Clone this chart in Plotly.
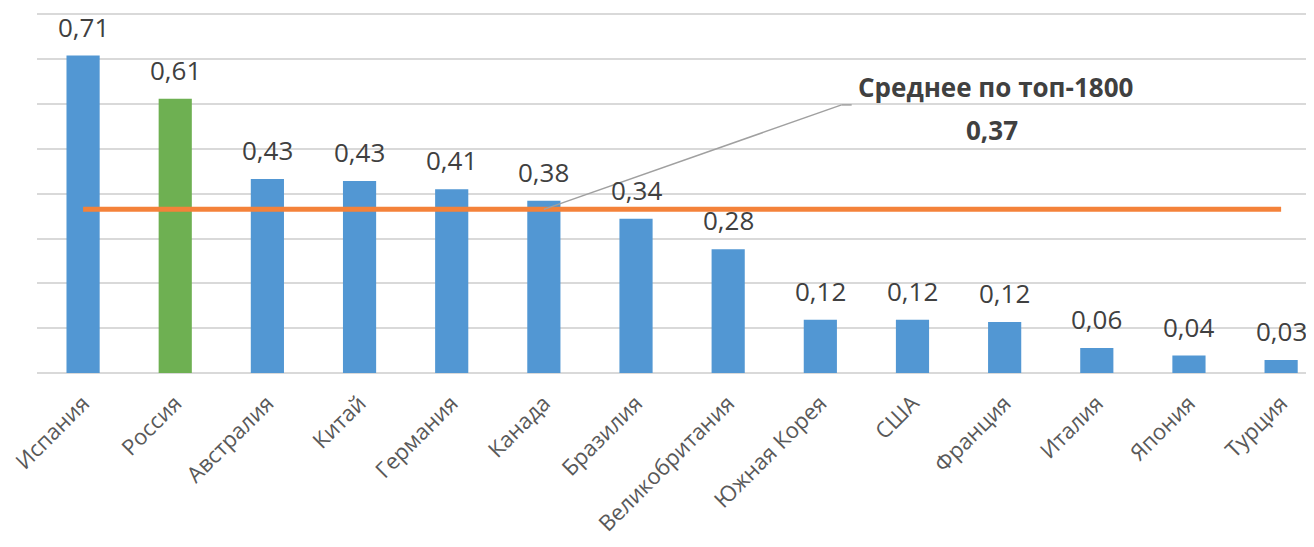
import plotly.graph_objects as go

countries = ["Испания", "Россия", "Австралия", "Китай", "Германия", "Канада", "Бразилия",
             "Великобритания", "Южная Корея", "США", "Франция", "Италия", "Япония", "Турция"]
values = [0.71, 0.61, 0.43, 0.43, 0.41, 0.38, 0.34, 0.28, 0.12, 0.12, 0.12, 0.06, 0.04, 0.03]
bar_heights = [0.708, 0.612, 0.433, 0.428, 0.41, 0.384, 0.344, 0.276, 0.119, 0.119, 0.114, 0.056, 0.039, 0.029]
highlight = "Россия"
mean_value = 0.365
mean_label = "0,37"
mean_title = "Среднее по топ-1800"
grid_vals = [0.1, 0.2, 0.3, 0.4, 0.5, 0.6, 0.7, 0.8]

BLUE = "#5297D3"
GREEN = "#6EB052"
ORANGE = "#F4823A"
GRID = "#D9D9D9"
FONT = "Open Sans"

colors = [GREEN if c == highlight else BLUE for c in countries]

fig = go.Figure()
fig.add_trace(go.Bar(x=countries, y=bar_heights, marker_color=colors, width=0.36,
                     marker_line_width=0, hoverinfo="skip", showlegend=False))
fig.add_trace(go.Scatter(x=[countries[0], countries[-1]], y=[mean_value, mean_value], mode="lines",
                         line=dict(color=ORANGE, width=5), hoverinfo="skip", showlegend=False))

for c, v, h in zip(countries, values, bar_heights):
    fig.add_annotation(x=c, y=h, text=f"{v:.2f}".replace(".", ","), showarrow=False,
                       yanchor="middle", yshift=29,
                       font=dict(family=FONT, size=26, color="#404040"))

# leader line from Canada bar to the mean label
idx = countries.index("Канада")
fig.add_shape(type="line", xref="x", yref="y", x0=idx, y0=mean_value, x1=idx + 3.23, y1=0.598,
              line=dict(color="#A0A0A0", width=1.5))
fig.add_shape(type="line", xref="x", yref="y", x0=idx + 3.23, y0=0.598, x1=idx + 3.34, y1=0.598,
              line=dict(color="#A0A0A0", width=1.5))
fig.add_annotation(x=idx + 4.9, y=0.638, xref="x", yref="y", text=f"<b>{mean_title}</b>",
                   showarrow=False, font=dict(family=FONT, size=26, color="#404040"))
fig.add_annotation(x=idx + 4.86, y=0.542, xref="x", yref="y", text=f"<b>{mean_label}</b>",
                   showarrow=False, font=dict(family=FONT, size=26, color="#404040"))

fig.update_layout(
    width=1298, height=531,
    margin=dict(l=27, r=0, t=5, b=166),
    paper_bgcolor="white", plot_bgcolor="white",
    font=dict(family=FONT, color="#595959"),
    bargap=0.64,
)
fig.update_xaxes(type="category", range=[-0.5, 13.27], tickangle=-45,
                 tickfont=dict(family=FONT, size=22, color="#595959"),
                 showgrid=False, showline=False, ticks="", ticklabelstandoff=12)
fig.update_yaxes(range=[0, 0.803], tickmode="array", tickvals=grid_vals, showticklabels=False,
                 showgrid=True, gridcolor=GRID, gridwidth=1.5, zeroline=True, zerolinecolor=GRID,
                 zerolinewidth=1.5, showline=False)

fig.write_html("out.html")
